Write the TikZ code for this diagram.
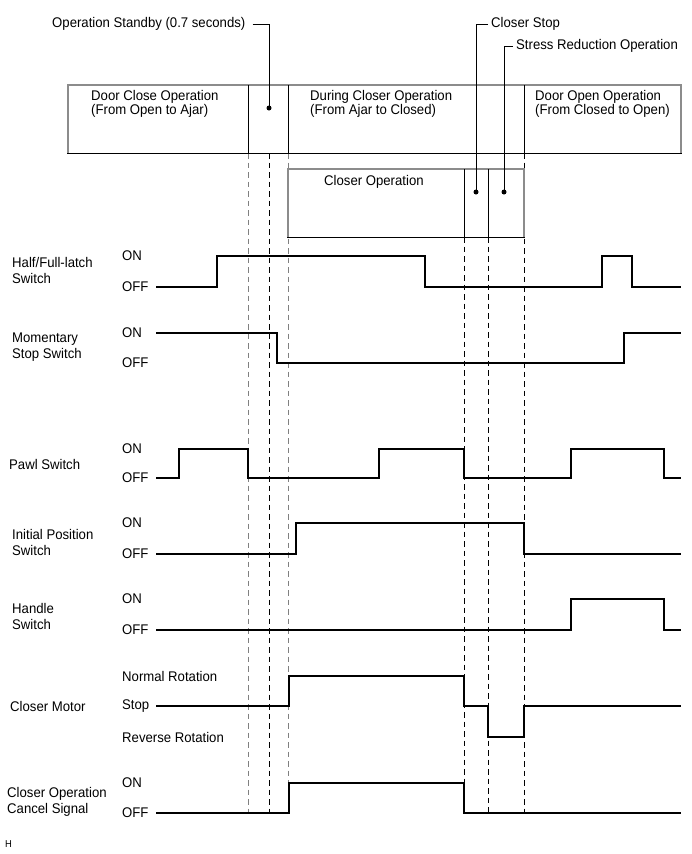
\documentclass[tikz,border=0pt]{standalone}
\usepackage{fontspec}
\setmainfont{Liberation Sans}[FakeStretch=0.94]
\begin{document}
\begin{tikzpicture}[x=1pt,y=-1pt,
  lbl/.style={anchor=west,inner sep=0pt,font=\fontsize{14}{16}\selectfont,align=left},
  blbl/.style={anchor=west,inner sep=0pt,font=\fontsize{14}{14}\selectfont,align=left},
  sig/.style={line width=2pt,line join=miter},
  boxline/.style={draw=black!45,line width=1.8pt},
  divline/.style={line width=1pt},
  guide/.style={dash pattern=on 5.5pt off 4pt,line width=0.8pt},
  lguide/.style={guide,draw=black!50},
  leader/.style={line width=1pt},
  dot/.style={circle,fill,inner sep=0pt,minimum size=5pt}]
\useasboundingbox (0,0) rectangle (691,854);

% dashed guide lines
\draw[lguide] (248,153) -- (248,812);
\draw[guide] (269,153) -- (269,812);
\draw[lguide] (288,153) -- (288,812);
\draw[guide] (464,237) -- (464,812);
\draw[guide] (488,237) -- (488,812);
\draw[guide] (524,153) -- (524,812);

% top phase box
\draw[boxline] (68,153) -- (68,85) -- (681,85) -- (681,153);
\draw[divline] (67,153) -- (682,153);
\draw[divline] (248,85) -- (248,153);
\draw[divline] (288,85) -- (288,153);
\draw[divline] (524,85) -- (524,153);
\node[blbl] (dco) at (91,103.5) {Door Close Operation\\(From Open to Ajar)};
\node[blbl] (dur) at (310,103.5) {During Closer Operation\\(From Ajar to Closed)};
\node[blbl] (doo) at (535,103.5) {Door Open Operation\\(From Closed to Open)};

% closer operation box
\draw[boxline] (288,237) -- (288,169) -- (524,169) -- (524,237);
\draw[divline] (287,237) -- (525,237);
\draw[divline] (464,169) -- (464,237);
\draw[divline] (488,169) -- (488,237);
\node[lbl] (cop) at (324,182) {Closer Operation};

% leaders
\node[lbl] (stby) at (52,24) {Operation Standby (0.7 seconds)};
\coordinate (d1) at (269,108);
\node[dot] (d1n) at (d1) {};
\draw[leader] ([xshift=7pt]stby.east) -| (d1);

\node[lbl] (cstop) at (491,24) {Closer Stop};
\coordinate (d2) at (476,192);
\node[dot] (d2n) at (d2) {};
\draw[leader] ([xshift=-3pt]cstop.west) -| (d2);

\node[lbl] (stress) at (516,46) {Stress Reduction Operation};
\coordinate (d3) at (504,192);
\node[dot] (d3n) at (d3) {};
\draw[leader] ([xshift=-3pt]stress.west) -| (d3);

% signal names
\node[lbl] (n1) at (12,270.5) {Half/Full-latch\\Switch};
\node[lbl] (n2) at (12,347) {Momentary\\Stop Switch};
\node[lbl] (n3) at (9,464) {Pawl Switch};
\node[lbl] (n4) at (12,542) {Initial Position\\Switch};
\node[lbl] (n5) at (12,616) {Handle\\Switch};
\node[lbl] (n6) at (10,706) {Closer Motor};
\node[lbl] (n7) at (7,801.5) {Closer Operation\\Cancel Signal};

% level labels
\foreach \on/\off/\k in {256/287/a,333/363/b,449/478/c,523/554/d,599/630/e,783/813/f}{
  \node[lbl] (on\k) at (122,\on) {ON};
  \node[lbl] (off\k) at (122,\off) {OFF};
}
\node[lbl] (nr) at (122,676) {Normal Rotation};
\node[lbl] (st) at (122,706) {Stop};
\node[lbl] (rr) at (122,737) {Reverse Rotation};

% waveforms
\draw[sig] (156,287) -- (217,287) -- (217,256) -- (425,256) -- (425,287) -- (602,287) -- (602,256) -- (632,256) -- (632,287) -- (681,287);
\draw[sig] (156,333) -- (277,333) -- (277,363) -- (624,363) -- (624,333) -- (681,333);
\draw[sig] (156,478) -- (179,478) -- (179,449) -- (248,449) -- (248,478) -- (379,478) -- (379,449) -- (464,449) -- (464,478) -- (571,478) -- (571,449) -- (664,449) -- (664,478) -- (681,478);
\draw[sig] (156,554) -- (296,554) -- (296,523) -- (524,523) -- (524,554) -- (681,554);
\draw[sig] (156,630) -- (571,630) -- (571,599) -- (664,599) -- (664,630) -- (681,630);
\draw[sig] (156,706) -- (289,706) -- (289,676) -- (464,676) -- (464,706) -- (488,706) -- (488,737) -- (524,737) -- (524,706) -- (681,706);
\draw[sig] (156,813) -- (289,813) -- (289,783) -- (464,783) -- (464,813) -- (681,813);

\node[anchor=west,inner sep=0pt,font=\fontsize{10}{11}\selectfont] (hh) at (5,844.5) {H};
\end{tikzpicture}
\end{document}
